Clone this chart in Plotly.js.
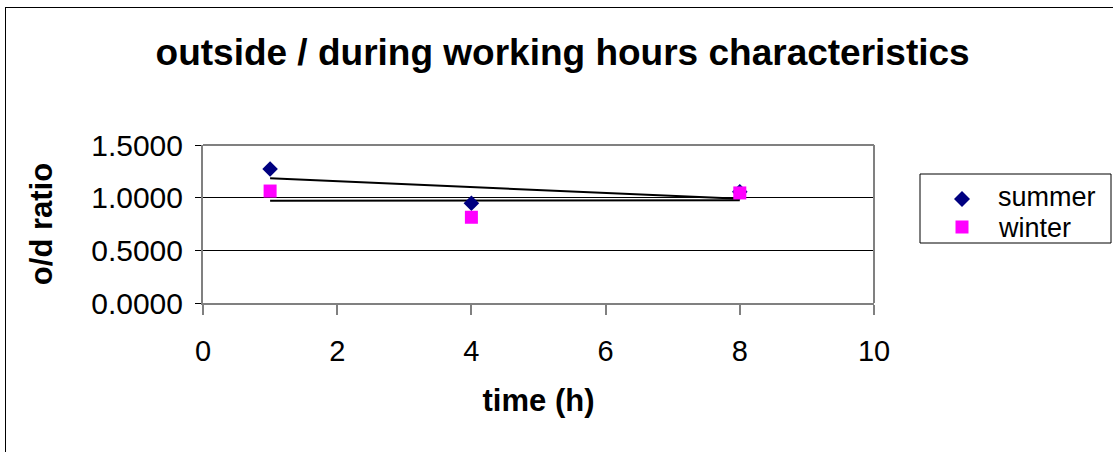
<!DOCTYPE html>
<html>
<head>
<meta charset="utf-8">
<script src="https://cdn.plot.ly/plotly-3.0.1.min.js"></script>
<style>
  html, body { margin: 0; padding: 0; background: #fff; }
  #wrap { position: relative; width: 1113px; height: 452px; overflow: hidden; }
  #chart { width: 1113px; height: 452px; }
  #frame { position: absolute; left: 5px; top: 7px; width: 1112px; height: 450px;
           border-left: 1px solid #000; border-top: 1px solid #000; pointer-events: none; }
</style>
</head>
<body>
<div id="wrap"><div id="chart"></div><div id="frame"></div></div>
<script>
const times = [1, 4, 8];
const summer = [1.272, 0.947, 1.055];
const winter = [1.063, 0.814, 1.045];
const seriesNames = ['summer', 'winter'];
const xTicks = [0, 2, 4, 6, 8, 10];
const yTicks = [0, 0.5, 1.0, 1.5];

function linFit(xs, ys) {
  const n = xs.length;
  const mx = xs.reduce((a, b) => a + b, 0) / n;
  const my = ys.reduce((a, b) => a + b, 0) / n;
  let sxy = 0, sxx = 0;
  for (let i = 0; i < n; i++) { sxy += (xs[i] - mx) * (ys[i] - my); sxx += (xs[i] - mx) ** 2; }
  const b = sxy / sxx, a = my - b * mx;
  const x0 = Math.min(...xs), x1 = Math.max(...xs);
  return { x: [x0, x1], y: [a + b * x0, a + b * x1] };
}

const font = "Liberation Sans, Arial, sans-serif";
const fs = linFit(times, summer);
const fw = linFit(times, winter);
const summerColor = '#000080', winterColor = '#FF00FF';

const data = [
  { x: fs.x, y: fs.y, mode: 'lines', line: { color: '#000', width: 2 }, showlegend: false, hoverinfo: 'skip' },
  { x: fw.x, y: fw.y, mode: 'lines', line: { color: '#000', width: 2 }, showlegend: false, hoverinfo: 'skip' },
  { x: times, y: summer, name: seriesNames[0], mode: 'markers', type: 'scatter', showlegend: false,
    marker: { symbol: 'diamond', color: summerColor, size: 12 } },
  { x: times, y: winter, name: seriesNames[1], mode: 'markers', type: 'scatter', showlegend: false,
    marker: { symbol: 'square', color: winterColor, size: 13 } }
];

// custom compact legend box (Excel style), placed in plot-fraction coordinates
const L = 203, T = 145, PW = 671, PH = 158;
const px = x => (x - L) / PW;
const py = y => (T + PH - y) / PH;

const layout = {
  width: 1113, height: 452,
  margin: { l: 203, r: 239, t: 145, b: 149, pad: 0 },
  paper_bgcolor: '#fff', plot_bgcolor: '#fff',
  font: { family: font, color: '#000' },
  showlegend: false,
  title: { text: 'outside / during working hours characteristics', font: { family: font, size: 37, weight: 'bold', color: '#000' },
           x: 0.5055, xanchor: 'center', y: 0.885, yanchor: 'middle' },
  xaxis: {
    range: [0, 10], tickvals: xTicks, ticktext: xTicks.map(String),
    showgrid: false, zeroline: false, showline: true, linecolor: '#808080', linewidth: 2,
    ticks: 'outside', ticklen: 10, tickcolor: '#808080', tickwidth: 2,
    tickfont: { family: font, size: 29 }, ticklabelstandoff: 11,
    title: { text: 'time (h)', font: { family: font, size: 31, weight: 'bold' }, standoff: 24 },
    automargin: false, fixedrange: true
  },
  yaxis: {
    range: [0, 1.5], tickvals: yTicks, tickformat: '.4f',
    showgrid: true, gridcolor: '#000', gridwidth: 1, zeroline: false,
    showline: true, linecolor: '#808080', linewidth: 2,
    ticks: 'outside', ticklen: 6, tickcolor: '#000', tickwidth: 1,
    tickfont: { family: font, size: 30 }, ticklabelstandoff: 6,
    title: { text: 'o/d ratio', font: { family: font, size: 31, weight: 'bold' }, standoff: 29 },
    automargin: false, fixedrange: true
  },
  shapes: [
    { type: 'line', xref: 'paper', yref: 'paper', x0: 0, x1: 1, y0: 1, y1: 1, line: { color: '#808080', width: 2 } },
    { type: 'line', xref: 'paper', yref: 'paper', x0: 1, x1: 1, y0: 0, y1: 1, line: { color: '#808080', width: 2 } },
    { type: 'rect', xref: 'paper', yref: 'paper', x0: px(920), x1: px(1111), y0: py(243), y1: py(174),
      line: { color: '#000', width: 1 }, fillcolor: '#fff' },
    { type: 'path', xref: 'paper', yref: 'paper', xsizemode: 'pixel', ysizemode: 'pixel',
      xanchor: px(962), yanchor: py(199), path: 'M 0 8 L 8 0 L 0 -8 L -8 0 Z',
      line: { color: summerColor, width: 0 }, fillcolor: summerColor },
    { type: 'rect', xref: 'paper', yref: 'paper', xsizemode: 'pixel', ysizemode: 'pixel',
      xanchor: px(962), yanchor: py(227), x0: -6.5, x1: 6.5, y0: -6.5, y1: 6.5,
      line: { color: winterColor, width: 0 }, fillcolor: winterColor }
  ],
  annotations: [
    { text: seriesNames[0], xref: 'paper', yref: 'paper', x: px(996), y: py(197), xanchor: 'left', yanchor: 'middle',
      showarrow: false, font: { family: font, size: 27 } },
    { text: seriesNames[1], xref: 'paper', yref: 'paper', x: px(996), y: py(228), xanchor: 'left', yanchor: 'middle',
      showarrow: false, font: { family: font, size: 27 } }
  ]
};

Plotly.newPlot('chart', data, layout, { displayModeBar: false, staticPlot: true });
</script>
</body>
</html>
